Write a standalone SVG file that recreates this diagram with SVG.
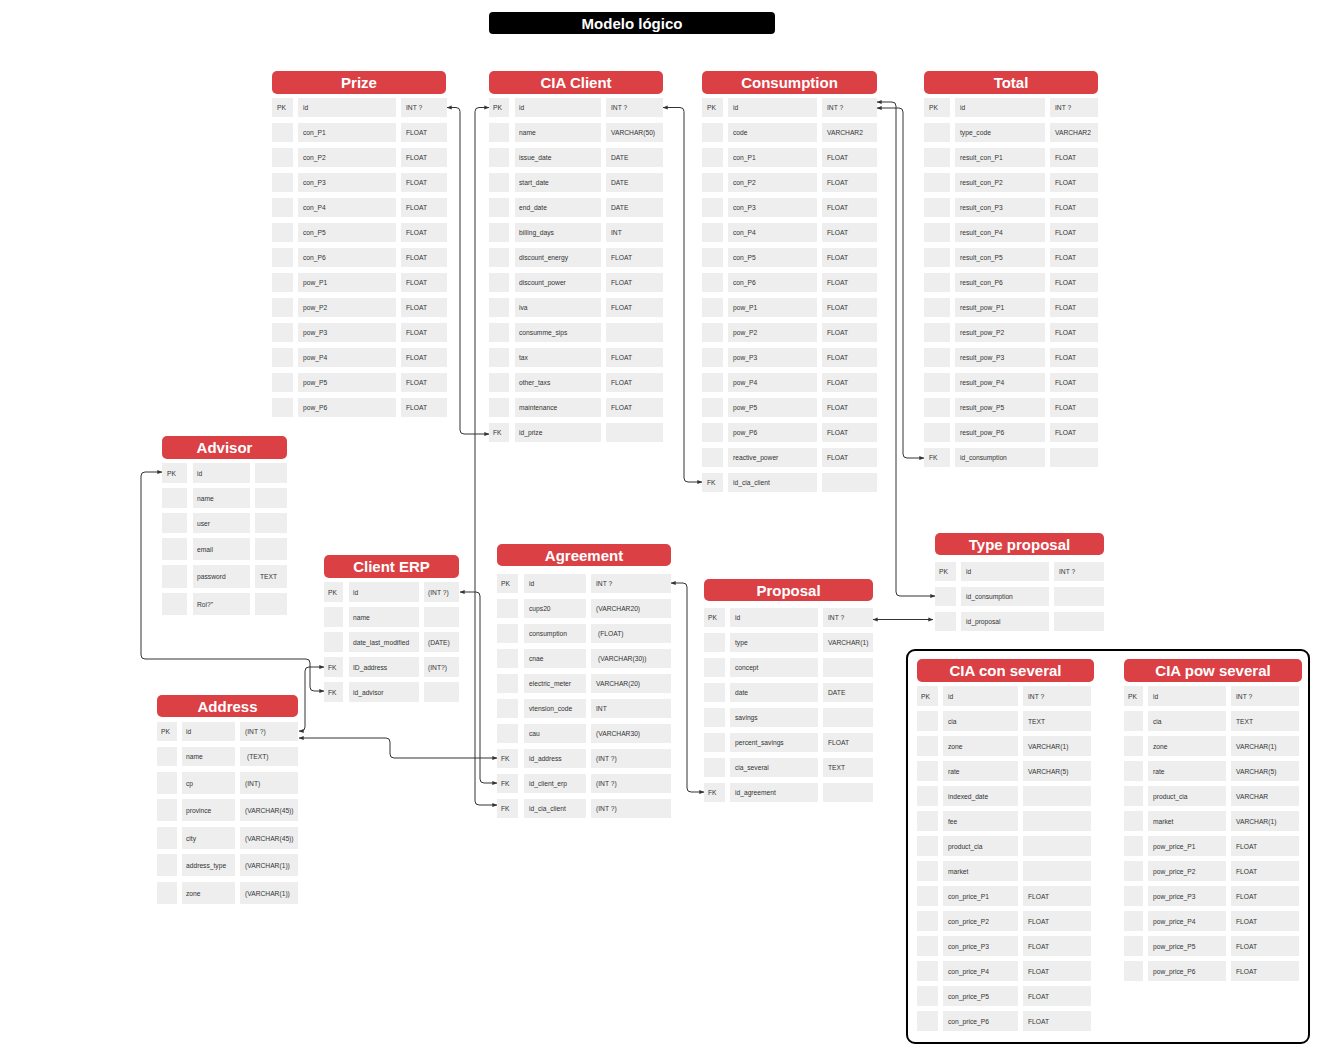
<svg xmlns="http://www.w3.org/2000/svg" width="1320" height="1054" viewBox="0 0 1320 1054">
<style>
.h{fill:#DB4045}
.ht{font-family:"Liberation Sans",Arial,sans-serif;font-weight:bold;font-size:15px;fill:#fff;text-anchor:middle}
.c{fill:#eeeeee}
text.t{font-family:"Liberation Sans",Arial,sans-serif;font-size:6.7px;fill:#333}
.ln{fill:none;stroke:#333;stroke-width:1;marker-start:url(#a);marker-end:url(#a)}
</style>
<defs>
<marker id="a" viewBox="0 0 8 8" refX="7.5" refY="4" markerWidth="5" markerHeight="5" orient="auto-start-reverse" markerUnits="userSpaceOnUse"><path d="M0,0.8 L8,4 L0,7.2 Z" fill="#333"/></marker>
</defs>
<rect width="1320" height="1054" fill="#fff"/>
<g id="title">
<rect x="489" y="12" width="286" height="22" rx="4" fill="#000"/>
<text x="632" y="29" class="ht">Modelo lógico</text>
</g>

<g id="prize">
<rect class="h" x="272" y="71" width="174" height="23" rx="5"/><text class="ht" x="359" y="88">Prize</text>
<rect class="c" x="272" y="98" width="21" height="19"/><rect class="c" x="298" y="98" width="98" height="19"/><rect class="c" x="401" y="98" width="46" height="19"/>
<rect class="c" x="272" y="123" width="21" height="19"/><rect class="c" x="298" y="123" width="98" height="19"/><rect class="c" x="401" y="123" width="46" height="19"/>
<rect class="c" x="272" y="148" width="21" height="19"/><rect class="c" x="298" y="148" width="98" height="19"/><rect class="c" x="401" y="148" width="46" height="19"/>
<rect class="c" x="272" y="173" width="21" height="19"/><rect class="c" x="298" y="173" width="98" height="19"/><rect class="c" x="401" y="173" width="46" height="19"/>
<rect class="c" x="272" y="198" width="21" height="19"/><rect class="c" x="298" y="198" width="98" height="19"/><rect class="c" x="401" y="198" width="46" height="19"/>
<rect class="c" x="272" y="223" width="21" height="19"/><rect class="c" x="298" y="223" width="98" height="19"/><rect class="c" x="401" y="223" width="46" height="19"/>
<rect class="c" x="272" y="248" width="21" height="19"/><rect class="c" x="298" y="248" width="98" height="19"/><rect class="c" x="401" y="248" width="46" height="19"/>
<rect class="c" x="272" y="273" width="21" height="19"/><rect class="c" x="298" y="273" width="98" height="19"/><rect class="c" x="401" y="273" width="46" height="19"/>
<rect class="c" x="272" y="298" width="21" height="19"/><rect class="c" x="298" y="298" width="98" height="19"/><rect class="c" x="401" y="298" width="46" height="19"/>
<rect class="c" x="272" y="323" width="21" height="19"/><rect class="c" x="298" y="323" width="98" height="19"/><rect class="c" x="401" y="323" width="46" height="19"/>
<rect class="c" x="272" y="348" width="21" height="19"/><rect class="c" x="298" y="348" width="98" height="19"/><rect class="c" x="401" y="348" width="46" height="19"/>
<rect class="c" x="272" y="373" width="21" height="19"/><rect class="c" x="298" y="373" width="98" height="19"/><rect class="c" x="401" y="373" width="46" height="19"/>
<rect class="c" x="272" y="398" width="21" height="19"/><rect class="c" x="298" y="398" width="98" height="19"/><rect class="c" x="401" y="398" width="46" height="19"/>
<text class="t" x="277" y="110">PK</text><text class="t" x="303" y="110">id</text><text class="t" x="406" y="110">INT ?</text>
<text class="t" x="303" y="135">con_P1</text><text class="t" x="406" y="135">FLOAT</text>
<text class="t" x="303" y="160">con_P2</text><text class="t" x="406" y="160">FLOAT</text>
<text class="t" x="303" y="185">con_P3</text><text class="t" x="406" y="185">FLOAT</text>
<text class="t" x="303" y="210">con_P4</text><text class="t" x="406" y="210">FLOAT</text>
<text class="t" x="303" y="235">con_P5</text><text class="t" x="406" y="235">FLOAT</text>
<text class="t" x="303" y="260">con_P6</text><text class="t" x="406" y="260">FLOAT</text>
<text class="t" x="303" y="285">pow_P1</text><text class="t" x="406" y="285">FLOAT</text>
<text class="t" x="303" y="310">pow_P2</text><text class="t" x="406" y="310">FLOAT</text>
<text class="t" x="303" y="335">pow_P3</text><text class="t" x="406" y="335">FLOAT</text>
<text class="t" x="303" y="360">pow_P4</text><text class="t" x="406" y="360">FLOAT</text>
<text class="t" x="303" y="385">pow_P5</text><text class="t" x="406" y="385">FLOAT</text>
<text class="t" x="303" y="410">pow_P6</text><text class="t" x="406" y="410">FLOAT</text>
</g>

<g id="cia_client">
<rect class="h" x="489" y="71" width="174" height="23" rx="5"/><text class="ht" x="576" y="88">CIA Client</text>
<rect class="c" x="489" y="98" width="20" height="19"/><rect class="c" x="515" y="98" width="86" height="19"/><rect class="c" x="606" y="98" width="57" height="19"/>
<rect class="c" x="489" y="123" width="20" height="19"/><rect class="c" x="515" y="123" width="86" height="19"/><rect class="c" x="606" y="123" width="57" height="19"/>
<rect class="c" x="489" y="148" width="20" height="19"/><rect class="c" x="515" y="148" width="86" height="19"/><rect class="c" x="606" y="148" width="57" height="19"/>
<rect class="c" x="489" y="173" width="20" height="19"/><rect class="c" x="515" y="173" width="86" height="19"/><rect class="c" x="606" y="173" width="57" height="19"/>
<rect class="c" x="489" y="198" width="20" height="19"/><rect class="c" x="515" y="198" width="86" height="19"/><rect class="c" x="606" y="198" width="57" height="19"/>
<rect class="c" x="489" y="223" width="20" height="19"/><rect class="c" x="515" y="223" width="86" height="19"/><rect class="c" x="606" y="223" width="57" height="19"/>
<rect class="c" x="489" y="248" width="20" height="19"/><rect class="c" x="515" y="248" width="86" height="19"/><rect class="c" x="606" y="248" width="57" height="19"/>
<rect class="c" x="489" y="273" width="20" height="19"/><rect class="c" x="515" y="273" width="86" height="19"/><rect class="c" x="606" y="273" width="57" height="19"/>
<rect class="c" x="489" y="298" width="20" height="19"/><rect class="c" x="515" y="298" width="86" height="19"/><rect class="c" x="606" y="298" width="57" height="19"/>
<rect class="c" x="489" y="323" width="20" height="19"/><rect class="c" x="515" y="323" width="86" height="19"/><rect class="c" x="606" y="323" width="57" height="19"/>
<rect class="c" x="489" y="348" width="20" height="19"/><rect class="c" x="515" y="348" width="86" height="19"/><rect class="c" x="606" y="348" width="57" height="19"/>
<rect class="c" x="489" y="373" width="20" height="19"/><rect class="c" x="515" y="373" width="86" height="19"/><rect class="c" x="606" y="373" width="57" height="19"/>
<rect class="c" x="489" y="398" width="20" height="19"/><rect class="c" x="515" y="398" width="86" height="19"/><rect class="c" x="606" y="398" width="57" height="19"/>
<rect class="c" x="489" y="423" width="20" height="19"/><rect class="c" x="515" y="423" width="86" height="19"/><rect class="c" x="606" y="423" width="57" height="19"/>
<text class="t" x="493" y="110">PK</text><text class="t" x="519" y="110">id</text><text class="t" x="611" y="110">INT ?</text>
<text class="t" x="519" y="135">name</text><text class="t" x="611" y="135">VARCHAR(50)</text>
<text class="t" x="519" y="160">issue_date</text><text class="t" x="611" y="160">DATE</text>
<text class="t" x="519" y="185">start_date</text><text class="t" x="611" y="185">DATE</text>
<text class="t" x="519" y="210">end_date</text><text class="t" x="611" y="210">DATE</text>
<text class="t" x="519" y="235">billing_days</text><text class="t" x="611" y="235">INT</text>
<text class="t" x="519" y="260">discount_energy</text><text class="t" x="611" y="260">FLOAT</text>
<text class="t" x="519" y="285">discount_power</text><text class="t" x="611" y="285">FLOAT</text>
<text class="t" x="519" y="310">iva</text><text class="t" x="611" y="310">FLOAT</text>
<text class="t" x="519" y="335">consumme_sips</text>
<text class="t" x="519" y="360">tax</text><text class="t" x="611" y="360">FLOAT</text>
<text class="t" x="519" y="385">other_taxs</text><text class="t" x="611" y="385">FLOAT</text>
<text class="t" x="519" y="410">maintenance</text><text class="t" x="611" y="410">FLOAT</text>
<text class="t" x="493" y="435">FK</text><text class="t" x="519" y="435">id_prize</text>
</g>

<g id="consumption">
<rect class="h" x="702" y="71" width="175" height="23" rx="5"/><text class="ht" x="789.5" y="88">Consumption</text>
<rect class="c" x="702" y="98" width="21" height="19"/><rect class="c" x="728" y="98" width="89" height="19"/><rect class="c" x="822" y="98" width="55" height="19"/>
<rect class="c" x="702" y="123" width="21" height="19"/><rect class="c" x="728" y="123" width="89" height="19"/><rect class="c" x="822" y="123" width="55" height="19"/>
<rect class="c" x="702" y="148" width="21" height="19"/><rect class="c" x="728" y="148" width="89" height="19"/><rect class="c" x="822" y="148" width="55" height="19"/>
<rect class="c" x="702" y="173" width="21" height="19"/><rect class="c" x="728" y="173" width="89" height="19"/><rect class="c" x="822" y="173" width="55" height="19"/>
<rect class="c" x="702" y="198" width="21" height="19"/><rect class="c" x="728" y="198" width="89" height="19"/><rect class="c" x="822" y="198" width="55" height="19"/>
<rect class="c" x="702" y="223" width="21" height="19"/><rect class="c" x="728" y="223" width="89" height="19"/><rect class="c" x="822" y="223" width="55" height="19"/>
<rect class="c" x="702" y="248" width="21" height="19"/><rect class="c" x="728" y="248" width="89" height="19"/><rect class="c" x="822" y="248" width="55" height="19"/>
<rect class="c" x="702" y="273" width="21" height="19"/><rect class="c" x="728" y="273" width="89" height="19"/><rect class="c" x="822" y="273" width="55" height="19"/>
<rect class="c" x="702" y="298" width="21" height="19"/><rect class="c" x="728" y="298" width="89" height="19"/><rect class="c" x="822" y="298" width="55" height="19"/>
<rect class="c" x="702" y="323" width="21" height="19"/><rect class="c" x="728" y="323" width="89" height="19"/><rect class="c" x="822" y="323" width="55" height="19"/>
<rect class="c" x="702" y="348" width="21" height="19"/><rect class="c" x="728" y="348" width="89" height="19"/><rect class="c" x="822" y="348" width="55" height="19"/>
<rect class="c" x="702" y="373" width="21" height="19"/><rect class="c" x="728" y="373" width="89" height="19"/><rect class="c" x="822" y="373" width="55" height="19"/>
<rect class="c" x="702" y="398" width="21" height="19"/><rect class="c" x="728" y="398" width="89" height="19"/><rect class="c" x="822" y="398" width="55" height="19"/>
<rect class="c" x="702" y="423" width="21" height="19"/><rect class="c" x="728" y="423" width="89" height="19"/><rect class="c" x="822" y="423" width="55" height="19"/>
<rect class="c" x="702" y="448" width="21" height="19"/><rect class="c" x="728" y="448" width="89" height="19"/><rect class="c" x="822" y="448" width="55" height="19"/>
<rect class="c" x="702" y="473" width="21" height="19"/><rect class="c" x="728" y="473" width="89" height="19"/><rect class="c" x="822" y="473" width="55" height="19"/>
<text class="t" x="707" y="110">PK</text><text class="t" x="733" y="110">id</text><text class="t" x="827" y="110">INT ?</text>
<text class="t" x="733" y="135">code</text><text class="t" x="827" y="135">VARCHAR2</text>
<text class="t" x="733" y="160">con_P1</text><text class="t" x="827" y="160">FLOAT</text>
<text class="t" x="733" y="185">con_P2</text><text class="t" x="827" y="185">FLOAT</text>
<text class="t" x="733" y="210">con_P3</text><text class="t" x="827" y="210">FLOAT</text>
<text class="t" x="733" y="235">con_P4</text><text class="t" x="827" y="235">FLOAT</text>
<text class="t" x="733" y="260">con_P5</text><text class="t" x="827" y="260">FLOAT</text>
<text class="t" x="733" y="285">con_P6</text><text class="t" x="827" y="285">FLOAT</text>
<text class="t" x="733" y="310">pow_P1</text><text class="t" x="827" y="310">FLOAT</text>
<text class="t" x="733" y="335">pow_P2</text><text class="t" x="827" y="335">FLOAT</text>
<text class="t" x="733" y="360">pow_P3</text><text class="t" x="827" y="360">FLOAT</text>
<text class="t" x="733" y="385">pow_P4</text><text class="t" x="827" y="385">FLOAT</text>
<text class="t" x="733" y="410">pow_P5</text><text class="t" x="827" y="410">FLOAT</text>
<text class="t" x="733" y="435">pow_P6</text><text class="t" x="827" y="435">FLOAT</text>
<text class="t" x="733" y="460">reactive_power</text><text class="t" x="827" y="460">FLOAT</text>
<text class="t" x="707" y="485">FK</text><text class="t" x="733" y="485">id_cia_client</text>
</g>

<g id="total">
<rect class="h" x="924" y="71" width="174" height="23" rx="5"/><text class="ht" x="1011" y="88">Total</text>
<rect class="c" x="924" y="98" width="26" height="19"/><rect class="c" x="955" y="98" width="90" height="19"/><rect class="c" x="1050" y="98" width="48" height="19"/>
<rect class="c" x="924" y="123" width="26" height="19"/><rect class="c" x="955" y="123" width="90" height="19"/><rect class="c" x="1050" y="123" width="48" height="19"/>
<rect class="c" x="924" y="148" width="26" height="19"/><rect class="c" x="955" y="148" width="90" height="19"/><rect class="c" x="1050" y="148" width="48" height="19"/>
<rect class="c" x="924" y="173" width="26" height="19"/><rect class="c" x="955" y="173" width="90" height="19"/><rect class="c" x="1050" y="173" width="48" height="19"/>
<rect class="c" x="924" y="198" width="26" height="19"/><rect class="c" x="955" y="198" width="90" height="19"/><rect class="c" x="1050" y="198" width="48" height="19"/>
<rect class="c" x="924" y="223" width="26" height="19"/><rect class="c" x="955" y="223" width="90" height="19"/><rect class="c" x="1050" y="223" width="48" height="19"/>
<rect class="c" x="924" y="248" width="26" height="19"/><rect class="c" x="955" y="248" width="90" height="19"/><rect class="c" x="1050" y="248" width="48" height="19"/>
<rect class="c" x="924" y="273" width="26" height="19"/><rect class="c" x="955" y="273" width="90" height="19"/><rect class="c" x="1050" y="273" width="48" height="19"/>
<rect class="c" x="924" y="298" width="26" height="19"/><rect class="c" x="955" y="298" width="90" height="19"/><rect class="c" x="1050" y="298" width="48" height="19"/>
<rect class="c" x="924" y="323" width="26" height="19"/><rect class="c" x="955" y="323" width="90" height="19"/><rect class="c" x="1050" y="323" width="48" height="19"/>
<rect class="c" x="924" y="348" width="26" height="19"/><rect class="c" x="955" y="348" width="90" height="19"/><rect class="c" x="1050" y="348" width="48" height="19"/>
<rect class="c" x="924" y="373" width="26" height="19"/><rect class="c" x="955" y="373" width="90" height="19"/><rect class="c" x="1050" y="373" width="48" height="19"/>
<rect class="c" x="924" y="398" width="26" height="19"/><rect class="c" x="955" y="398" width="90" height="19"/><rect class="c" x="1050" y="398" width="48" height="19"/>
<rect class="c" x="924" y="423" width="26" height="19"/><rect class="c" x="955" y="423" width="90" height="19"/><rect class="c" x="1050" y="423" width="48" height="19"/>
<rect class="c" x="924" y="448" width="26" height="19"/><rect class="c" x="955" y="448" width="90" height="19"/><rect class="c" x="1050" y="448" width="48" height="19"/>
<text class="t" x="929" y="110">PK</text><text class="t" x="960" y="110">id</text><text class="t" x="1055" y="110">INT ?</text>
<text class="t" x="960" y="135">type_code</text><text class="t" x="1055" y="135">VARCHAR2</text>
<text class="t" x="960" y="160">result_con_P1</text><text class="t" x="1055" y="160">FLOAT</text>
<text class="t" x="960" y="185">result_con_P2</text><text class="t" x="1055" y="185">FLOAT</text>
<text class="t" x="960" y="210">result_con_P3</text><text class="t" x="1055" y="210">FLOAT</text>
<text class="t" x="960" y="235">result_con_P4</text><text class="t" x="1055" y="235">FLOAT</text>
<text class="t" x="960" y="260">result_con_P5</text><text class="t" x="1055" y="260">FLOAT</text>
<text class="t" x="960" y="285">result_con_P6</text><text class="t" x="1055" y="285">FLOAT</text>
<text class="t" x="960" y="310">result_pow_P1</text><text class="t" x="1055" y="310">FLOAT</text>
<text class="t" x="960" y="335">result_pow_P2</text><text class="t" x="1055" y="335">FLOAT</text>
<text class="t" x="960" y="360">result_pow_P3</text><text class="t" x="1055" y="360">FLOAT</text>
<text class="t" x="960" y="385">result_pow_P4</text><text class="t" x="1055" y="385">FLOAT</text>
<text class="t" x="960" y="410">result_pow_P5</text><text class="t" x="1055" y="410">FLOAT</text>
<text class="t" x="960" y="435">result_pow_P6</text><text class="t" x="1055" y="435">FLOAT</text>
<text class="t" x="929" y="460">FK</text><text class="t" x="960" y="460">id_consumption</text>
</g>

<g id="advisor">
<rect class="h" x="162" y="436" width="125" height="23" rx="5"/><text class="ht" x="224.5" y="453">Advisor</text>
<rect class="c" x="162" y="463" width="25" height="20"/><rect class="c" x="193" y="463" width="57" height="20"/><rect class="c" x="255" y="463" width="32" height="20"/>
<rect class="c" x="162" y="488" width="25" height="20"/><rect class="c" x="193" y="488" width="57" height="20"/><rect class="c" x="255" y="488" width="32" height="20"/>
<rect class="c" x="162" y="513" width="25" height="20"/><rect class="c" x="193" y="513" width="57" height="20"/><rect class="c" x="255" y="513" width="32" height="20"/>
<rect class="c" x="162" y="538" width="25" height="22"/><rect class="c" x="193" y="538" width="57" height="22"/><rect class="c" x="255" y="538" width="32" height="22"/>
<rect class="c" x="162" y="565" width="25" height="23"/><rect class="c" x="193" y="565" width="57" height="23"/><rect class="c" x="255" y="565" width="32" height="23"/>
<rect class="c" x="162" y="593" width="25" height="22"/><rect class="c" x="193" y="593" width="57" height="22"/><rect class="c" x="255" y="593" width="32" height="22"/>
<text class="t" x="167" y="475.5">PK</text><text class="t" x="197" y="475.5">id</text>
<text class="t" x="197" y="500.5">name</text>
<text class="t" x="197" y="525.5">user</text>
<text class="t" x="197" y="551.5">email</text>
<text class="t" x="197" y="579">password</text><text class="t" x="260" y="579">TEXT</text>
<text class="t" x="197" y="606.5">Rol?"</text>
</g>

<g id="client_erp">
<rect class="h" x="324" y="555" width="135" height="23" rx="5"/><text class="ht" x="391.5" y="572">Client ERP</text>
<rect class="c" x="324" y="582" width="19" height="20"/><rect class="c" x="349" y="582" width="70" height="20"/><rect class="c" x="424" y="582" width="35" height="20"/>
<rect class="c" x="324" y="607" width="19" height="20"/><rect class="c" x="349" y="607" width="70" height="20"/><rect class="c" x="424" y="607" width="35" height="20"/>
<rect class="c" x="324" y="632" width="19" height="20"/><rect class="c" x="349" y="632" width="70" height="20"/><rect class="c" x="424" y="632" width="35" height="20"/>
<rect class="c" x="324" y="657" width="19" height="20"/><rect class="c" x="349" y="657" width="70" height="20"/><rect class="c" x="424" y="657" width="35" height="20"/>
<rect class="c" x="324" y="682" width="19" height="20"/><rect class="c" x="349" y="682" width="70" height="20"/><rect class="c" x="424" y="682" width="35" height="20"/>
<text class="t" x="328" y="594.5">PK</text><text class="t" x="353" y="594.5">id</text><text class="t" x="428" y="594.5">(INT ?)</text>
<text class="t" x="353" y="619.5">name</text>
<text class="t" x="353" y="644.5">date_last_modified</text><text class="t" x="428" y="644.5">(DATE)</text>
<text class="t" x="328" y="669.5">FK</text><text class="t" x="353" y="669.5">ID_address</text><text class="t" x="428" y="669.5">(INT?)</text>
<text class="t" x="328" y="694.5">FK</text><text class="t" x="353" y="694.5">id_advisor</text>
</g>

<g id="address">
<rect class="h" x="157" y="695" width="141" height="22" rx="5"/><text class="ht" x="227.5" y="712">Address</text>
<rect class="c" x="157" y="722" width="20" height="19"/><rect class="c" x="182" y="722" width="53" height="19"/><rect class="c" x="240" y="722" width="58" height="19"/>
<rect class="c" x="157" y="747" width="20" height="19"/><rect class="c" x="182" y="747" width="53" height="19"/><rect class="c" x="240" y="747" width="58" height="19"/>
<rect class="c" x="157" y="772" width="20" height="22"/><rect class="c" x="182" y="772" width="53" height="22"/><rect class="c" x="240" y="772" width="58" height="22"/>
<rect class="c" x="157" y="799" width="20" height="22"/><rect class="c" x="182" y="799" width="53" height="22"/><rect class="c" x="240" y="799" width="58" height="22"/>
<rect class="c" x="157" y="827" width="20" height="22"/><rect class="c" x="182" y="827" width="53" height="22"/><rect class="c" x="240" y="827" width="58" height="22"/>
<rect class="c" x="157" y="854" width="20" height="22"/><rect class="c" x="182" y="854" width="53" height="22"/><rect class="c" x="240" y="854" width="58" height="22"/>
<rect class="c" x="157" y="882" width="20" height="22"/><rect class="c" x="182" y="882" width="53" height="22"/><rect class="c" x="240" y="882" width="58" height="22"/>
<text class="t" x="161" y="734">PK</text><text class="t" x="186" y="734">id</text><text class="t" x="245" y="734">(INT ?)</text>
<text class="t" x="186" y="759">name</text><text class="t" x="247" y="759">(TEXT)</text>
<text class="t" x="186" y="785.5">cp</text><text class="t" x="245" y="785.5">(INT)</text>
<text class="t" x="186" y="812.5">province</text><text class="t" x="245" y="812.5">(VARCHAR(45))</text>
<text class="t" x="186" y="840.5">city</text><text class="t" x="245" y="840.5">(VARCHAR(45))</text>
<text class="t" x="186" y="867.5">address_type</text><text class="t" x="245" y="867.5">(VARCHAR(1))</text>
<text class="t" x="186" y="895.5">zone</text><text class="t" x="245" y="895.5">(VARCHAR(1))</text>
</g>

<g id="agreement">
<rect class="h" x="497" y="544" width="174" height="22" rx="5"/><text class="ht" x="584" y="560.5">Agreement</text>
<rect class="c" x="497" y="574" width="21" height="19"/><rect class="c" x="524" y="574" width="62" height="19"/><rect class="c" x="591" y="574" width="80" height="19"/>
<rect class="c" x="497" y="599" width="21" height="19"/><rect class="c" x="524" y="599" width="62" height="19"/><rect class="c" x="591" y="599" width="80" height="19"/>
<rect class="c" x="497" y="624" width="21" height="19"/><rect class="c" x="524" y="624" width="62" height="19"/><rect class="c" x="591" y="624" width="80" height="19"/>
<rect class="c" x="497" y="649" width="21" height="19"/><rect class="c" x="524" y="649" width="62" height="19"/><rect class="c" x="591" y="649" width="80" height="19"/>
<rect class="c" x="497" y="674" width="21" height="19"/><rect class="c" x="524" y="674" width="62" height="19"/><rect class="c" x="591" y="674" width="80" height="19"/>
<rect class="c" x="497" y="699" width="21" height="19"/><rect class="c" x="524" y="699" width="62" height="19"/><rect class="c" x="591" y="699" width="80" height="19"/>
<rect class="c" x="497" y="724" width="21" height="19"/><rect class="c" x="524" y="724" width="62" height="19"/><rect class="c" x="591" y="724" width="80" height="19"/>
<rect class="c" x="497" y="749" width="21" height="19"/><rect class="c" x="524" y="749" width="62" height="19"/><rect class="c" x="591" y="749" width="80" height="19"/>
<rect class="c" x="497" y="774" width="21" height="19"/><rect class="c" x="524" y="774" width="62" height="19"/><rect class="c" x="591" y="774" width="80" height="19"/>
<rect class="c" x="497" y="799" width="21" height="19"/><rect class="c" x="524" y="799" width="62" height="19"/><rect class="c" x="591" y="799" width="80" height="19"/>
<text class="t" x="501" y="586">PK</text><text class="t" x="529" y="586">id</text><text class="t" x="596" y="586">INT ?</text>
<text class="t" x="529" y="611">cups20</text><text class="t" x="596" y="611">(VARCHAR20)</text>
<text class="t" x="529" y="636">consumption</text><text class="t" x="598" y="636">(FLOAT)</text>
<text class="t" x="529" y="661">cnae</text><text class="t" x="598" y="661">(VARCHAR(30))</text>
<text class="t" x="529" y="686">electric_meter</text><text class="t" x="596" y="686">VARCHAR(20)</text>
<text class="t" x="529" y="711">vtension_code</text><text class="t" x="596" y="711">INT</text>
<text class="t" x="529" y="736">cau</text><text class="t" x="596" y="736">(VARCHAR30)</text>
<text class="t" x="501" y="761">FK</text><text class="t" x="529" y="761">id_address</text><text class="t" x="596" y="761">(INT ?)</text>
<text class="t" x="501" y="786">FK</text><text class="t" x="529" y="786">id_client_erp</text><text class="t" x="596" y="786">(INT ?)</text>
<text class="t" x="501" y="811">FK</text><text class="t" x="529" y="811">id_cia_client</text><text class="t" x="596" y="811">(INT ?)</text>
</g>

<g id="proposal">
<rect class="h" x="704" y="579" width="169" height="22" rx="5"/><text class="ht" x="788.5" y="595.5">Proposal</text>
<rect class="c" x="704" y="608" width="21" height="19"/><rect class="c" x="730" y="608" width="88" height="19"/><rect class="c" x="823" y="608" width="50" height="19"/>
<rect class="c" x="704" y="633" width="21" height="19"/><rect class="c" x="730" y="633" width="88" height="19"/><rect class="c" x="823" y="633" width="50" height="19"/>
<rect class="c" x="704" y="658" width="21" height="19"/><rect class="c" x="730" y="658" width="88" height="19"/><rect class="c" x="823" y="658" width="50" height="19"/>
<rect class="c" x="704" y="683" width="21" height="19"/><rect class="c" x="730" y="683" width="88" height="19"/><rect class="c" x="823" y="683" width="50" height="19"/>
<rect class="c" x="704" y="708" width="21" height="19"/><rect class="c" x="730" y="708" width="88" height="19"/><rect class="c" x="823" y="708" width="50" height="19"/>
<rect class="c" x="704" y="733" width="21" height="19"/><rect class="c" x="730" y="733" width="88" height="19"/><rect class="c" x="823" y="733" width="50" height="19"/>
<rect class="c" x="704" y="758" width="21" height="19"/><rect class="c" x="730" y="758" width="88" height="19"/><rect class="c" x="823" y="758" width="50" height="19"/>
<rect class="c" x="704" y="783" width="21" height="19"/><rect class="c" x="730" y="783" width="88" height="19"/><rect class="c" x="823" y="783" width="50" height="19"/>
<text class="t" x="708" y="620">PK</text><text class="t" x="735" y="620">id</text><text class="t" x="828" y="620">INT ?</text>
<text class="t" x="735" y="645">type</text><text class="t" x="828" y="645">VARCHAR(1)</text>
<text class="t" x="735" y="670">concept</text>
<text class="t" x="735" y="695">date</text><text class="t" x="828" y="695">DATE</text>
<text class="t" x="735" y="720">savings</text>
<text class="t" x="735" y="745">percent_savings</text><text class="t" x="828" y="745">FLOAT</text>
<text class="t" x="735" y="770">cia_several</text><text class="t" x="828" y="770">TEXT</text>
<text class="t" x="708" y="795">FK</text><text class="t" x="735" y="795">id_agreement</text>
</g>

<g id="type_proposal">
<rect class="h" x="935" y="533" width="169" height="22" rx="5"/><text class="ht" x="1019.5" y="549.5">Type proposal</text>
<rect class="c" x="935" y="562" width="21" height="19"/><rect class="c" x="961" y="562" width="88" height="19"/><rect class="c" x="1054" y="562" width="50" height="19"/>
<rect class="c" x="935" y="587" width="21" height="19"/><rect class="c" x="961" y="587" width="88" height="19"/><rect class="c" x="1054" y="587" width="50" height="19"/>
<rect class="c" x="935" y="612" width="21" height="19"/><rect class="c" x="961" y="612" width="88" height="19"/><rect class="c" x="1054" y="612" width="50" height="19"/>
<text class="t" x="939" y="574">PK</text><text class="t" x="966" y="574">id</text><text class="t" x="1059" y="574">INT ?</text>
<text class="t" x="966" y="599">id_consumption</text>
<text class="t" x="966" y="624">id_proposal</text>
</g>

<rect x="907" y="650" width="402" height="393" rx="8" fill="none" stroke="#000" stroke-width="2"/>

<g id="cia_con_several">
<rect class="h" x="917" y="659" width="177" height="23" rx="5"/><text class="ht" x="1005.5" y="676">CIA con several</text>
<rect class="c" x="917" y="686" width="21" height="20"/><rect class="c" x="943" y="686" width="75" height="20"/><rect class="c" x="1023" y="686" width="68" height="20"/>
<rect class="c" x="917" y="711" width="21" height="20"/><rect class="c" x="943" y="711" width="75" height="20"/><rect class="c" x="1023" y="711" width="68" height="20"/>
<rect class="c" x="917" y="736" width="21" height="20"/><rect class="c" x="943" y="736" width="75" height="20"/><rect class="c" x="1023" y="736" width="68" height="20"/>
<rect class="c" x="917" y="761" width="21" height="20"/><rect class="c" x="943" y="761" width="75" height="20"/><rect class="c" x="1023" y="761" width="68" height="20"/>
<rect class="c" x="917" y="786" width="21" height="20"/><rect class="c" x="943" y="786" width="75" height="20"/><rect class="c" x="1023" y="786" width="68" height="20"/>
<rect class="c" x="917" y="811" width="21" height="20"/><rect class="c" x="943" y="811" width="75" height="20"/><rect class="c" x="1023" y="811" width="68" height="20"/>
<rect class="c" x="917" y="836" width="21" height="20"/><rect class="c" x="943" y="836" width="75" height="20"/><rect class="c" x="1023" y="836" width="68" height="20"/>
<rect class="c" x="917" y="861" width="21" height="20"/><rect class="c" x="943" y="861" width="75" height="20"/><rect class="c" x="1023" y="861" width="68" height="20"/>
<rect class="c" x="917" y="886" width="21" height="20"/><rect class="c" x="943" y="886" width="75" height="20"/><rect class="c" x="1023" y="886" width="68" height="20"/>
<rect class="c" x="917" y="911" width="21" height="20"/><rect class="c" x="943" y="911" width="75" height="20"/><rect class="c" x="1023" y="911" width="68" height="20"/>
<rect class="c" x="917" y="936" width="21" height="20"/><rect class="c" x="943" y="936" width="75" height="20"/><rect class="c" x="1023" y="936" width="68" height="20"/>
<rect class="c" x="917" y="961" width="21" height="20"/><rect class="c" x="943" y="961" width="75" height="20"/><rect class="c" x="1023" y="961" width="68" height="20"/>
<rect class="c" x="917" y="986" width="21" height="20"/><rect class="c" x="943" y="986" width="75" height="20"/><rect class="c" x="1023" y="986" width="68" height="20"/>
<rect class="c" x="917" y="1011" width="21" height="20"/><rect class="c" x="943" y="1011" width="75" height="20"/><rect class="c" x="1023" y="1011" width="68" height="20"/>
<text class="t" x="921" y="698.5">PK</text><text class="t" x="948" y="698.5">id</text><text class="t" x="1028" y="698.5">INT ?</text>
<text class="t" x="948" y="723.5">cia</text><text class="t" x="1028" y="723.5">TEXT</text>
<text class="t" x="948" y="748.5">zone</text><text class="t" x="1028" y="748.5">VARCHAR(1)</text>
<text class="t" x="948" y="773.5">rate</text><text class="t" x="1028" y="773.5">VARCHAR(5)</text>
<text class="t" x="948" y="798.5">indexed_date</text>
<text class="t" x="948" y="823.5">fee</text>
<text class="t" x="948" y="848.5">product_cia</text>
<text class="t" x="948" y="873.5">market</text>
<text class="t" x="948" y="898.5">con_price_P1</text><text class="t" x="1028" y="898.5">FLOAT</text>
<text class="t" x="948" y="923.5">con_price_P2</text><text class="t" x="1028" y="923.5">FLOAT</text>
<text class="t" x="948" y="948.5">con_price_P3</text><text class="t" x="1028" y="948.5">FLOAT</text>
<text class="t" x="948" y="973.5">con_price_P4</text><text class="t" x="1028" y="973.5">FLOAT</text>
<text class="t" x="948" y="998.5">con_price_P5</text><text class="t" x="1028" y="998.5">FLOAT</text>
<text class="t" x="948" y="1023.5">con_price_P6</text><text class="t" x="1028" y="1023.5">FLOAT</text>
</g>

<g id="cia_pow_several">
<rect class="h" x="1124" y="659" width="178" height="23" rx="5"/><text class="ht" x="1213" y="676">CIA pow several</text>
<rect class="c" x="1124" y="686" width="19" height="20"/><rect class="c" x="1148" y="686" width="78" height="20"/><rect class="c" x="1231" y="686" width="68" height="20"/>
<rect class="c" x="1124" y="711" width="19" height="20"/><rect class="c" x="1148" y="711" width="78" height="20"/><rect class="c" x="1231" y="711" width="68" height="20"/>
<rect class="c" x="1124" y="736" width="19" height="20"/><rect class="c" x="1148" y="736" width="78" height="20"/><rect class="c" x="1231" y="736" width="68" height="20"/>
<rect class="c" x="1124" y="761" width="19" height="20"/><rect class="c" x="1148" y="761" width="78" height="20"/><rect class="c" x="1231" y="761" width="68" height="20"/>
<rect class="c" x="1124" y="786" width="19" height="20"/><rect class="c" x="1148" y="786" width="78" height="20"/><rect class="c" x="1231" y="786" width="68" height="20"/>
<rect class="c" x="1124" y="811" width="19" height="20"/><rect class="c" x="1148" y="811" width="78" height="20"/><rect class="c" x="1231" y="811" width="68" height="20"/>
<rect class="c" x="1124" y="836" width="19" height="20"/><rect class="c" x="1148" y="836" width="78" height="20"/><rect class="c" x="1231" y="836" width="68" height="20"/>
<rect class="c" x="1124" y="861" width="19" height="20"/><rect class="c" x="1148" y="861" width="78" height="20"/><rect class="c" x="1231" y="861" width="68" height="20"/>
<rect class="c" x="1124" y="886" width="19" height="20"/><rect class="c" x="1148" y="886" width="78" height="20"/><rect class="c" x="1231" y="886" width="68" height="20"/>
<rect class="c" x="1124" y="911" width="19" height="20"/><rect class="c" x="1148" y="911" width="78" height="20"/><rect class="c" x="1231" y="911" width="68" height="20"/>
<rect class="c" x="1124" y="936" width="19" height="20"/><rect class="c" x="1148" y="936" width="78" height="20"/><rect class="c" x="1231" y="936" width="68" height="20"/>
<rect class="c" x="1124" y="961" width="19" height="20"/><rect class="c" x="1148" y="961" width="78" height="20"/><rect class="c" x="1231" y="961" width="68" height="20"/>
<text class="t" x="1128" y="698.5">PK</text><text class="t" x="1153" y="698.5">id</text><text class="t" x="1236" y="698.5">INT ?</text>
<text class="t" x="1153" y="723.5">cia</text><text class="t" x="1236" y="723.5">TEXT</text>
<text class="t" x="1153" y="748.5">zone</text><text class="t" x="1236" y="748.5">VARCHAR(1)</text>
<text class="t" x="1153" y="773.5">rate</text><text class="t" x="1236" y="773.5">VARCHAR(5)</text>
<text class="t" x="1153" y="798.5">product_cia</text><text class="t" x="1236" y="798.5">VARCHAR</text>
<text class="t" x="1153" y="823.5">market</text><text class="t" x="1236" y="823.5">VARCHAR(1)</text>
<text class="t" x="1153" y="848.5">pow_price_P1</text><text class="t" x="1236" y="848.5">FLOAT</text>
<text class="t" x="1153" y="873.5">pow_price_P2</text><text class="t" x="1236" y="873.5">FLOAT</text>
<text class="t" x="1153" y="898.5">pow_price_P3</text><text class="t" x="1236" y="898.5">FLOAT</text>
<text class="t" x="1153" y="923.5">pow_price_P4</text><text class="t" x="1236" y="923.5">FLOAT</text>
<text class="t" x="1153" y="948.5">pow_price_P5</text><text class="t" x="1236" y="948.5">FLOAT</text>
<text class="t" x="1153" y="973.5">pow_price_P6</text><text class="t" x="1236" y="973.5">FLOAT</text>
</g>

<g id="connectors">
<path class="ln" d="M447,107.5 H456 Q460,107.5 460,111.5 V430 Q460,434 464,434 H489"/>
<path class="ln" d="M489,107.5 H479 Q475,107.5 475,111.5 V801 Q475,805 479,805 H497"/>
<path class="ln" d="M460,592 H476 Q480,592 480,596 V779 Q480,783 484,783 H497"/>
<path class="ln" d="M299,738 H386 Q390,738 390,742 V754 Q390,758 394,758 H497"/>
<path class="ln" d="M299,731 H301 Q305,731 305,727 V671 Q305,667 309,667 H324"/>
<path class="ln" d="M162,472 H145 Q141,472 141,476 V655 Q141,659 145,659 H306 Q310,659 310,663 V687 Q310,691 314,691 H324"/>
<path class="ln" d="M671,583 H683 Q687,583 687,587 V788 Q687,792 691,792 H704"/>
<path class="ln" d="M663,107.5 H680 Q684,107.5 684,111.5 V478 Q684,482 688,482 H702"/>
<path class="ln" d="M877,102 H892 Q896,102 896,106 V592 Q896,596 900,596 H935"/>
<path class="ln" d="M877,108 H899 Q903,108 903,112 V454 Q903,458 907,458 H924"/>
<path class="ln" d="M873,619.5 H933"/>
</g>
</svg>
